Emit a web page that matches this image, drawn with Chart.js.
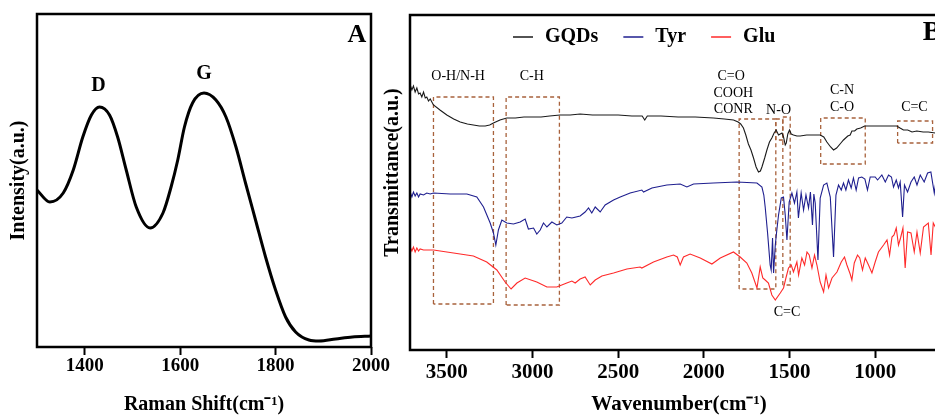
<!DOCTYPE html>
<html>
<head>
<meta charset="utf-8">
<script src="https://cdn.jsdelivr.net/npm/chart.js@4.4.1/dist/chart.umd.min.js"></script>
<style>
  html, body { margin: 0; padding: 0; background: #fff; overflow: hidden; width: 935px; height: 416px; }
  #wrapA { position: absolute; left: 0; top: 0; width: 400px; height: 416px; }
  #wrapB { position: absolute; left: 380px; top: 0; width: 620px; height: 416px; }
</style>
</head>
<body>
<div id="wrapA"><canvas id="ramanChart"></canvas></div>
<div id="wrapB"><canvas id="ftirChart"></canvas></div>
<script>
// ---- panel A: Raman ----
const ramanShift = [1300, 1327, 1355, 1376, 1396, 1414, 1431, 1452, 1469, 1487, 1508, 1537, 1564, 1581, 1595, 1609, 1626, 1650, 1675, 1696, 1717, 1737, 1758, 1779, 1800, 1821, 1842, 1870, 1891, 1926, 1961, 2000];
const ramanIntensity = [157, 145, 154, 177, 210, 232, 240, 232, 210, 177, 140, 119, 134, 160, 187, 220, 244, 254, 247, 230, 200, 164, 127, 90, 57, 30, 15, 7, 6, 8, 10, 11];
const ramanTicks = [1400, 1600, 1800, 2000];
const ramanPeaks = [
  { text: 'D', x: 1429, y: 261 },
  { text: 'G', x: 1650, y: 273 }
];

// ---- panel B: FTIR ----
const gqdsWavenumber = [3714, 3704, 3695, 3685, 3675, 3665, 3656, 3646, 3636, 3626, 3617, 3607, 3597, 3578, 3540, 3500, 3460, 3422, 3380, 3345, 3310, 3276, 3250, 3228, 3190, 3150, 3100, 3050, 3014, 2950, 2900, 2839, 2780, 2722, 2650, 2580, 2500, 2420, 2360, 2345, 2330, 2250, 2150, 2050, 1944, 1880, 1827, 1800, 1785, 1769, 1755, 1740, 1725, 1710, 1695, 1681, 1670, 1661, 1645, 1632, 1617, 1603, 1590, 1578, 1564, 1554, 1544, 1535, 1525, 1519, 1510, 1500, 1490, 1477, 1457, 1438, 1400, 1360, 1321, 1300, 1282, 1260, 1243, 1225, 1200, 1185, 1160, 1146, 1136, 1120, 1107, 1085, 1061, 1040, 1000, 971, 930, 900, 874, 855, 835, 810, 785, 757, 720, 690, 650, 600, 575];
const gqdsT = [265, 260, 264, 258, 262, 256, 257, 253, 258, 252, 253, 249, 251, 245, 240, 235, 231, 228, 226, 225, 224, 224, 225, 227, 230, 232, 232, 233, 233, 233, 234, 235, 235, 236, 235, 235, 235, 234, 234, 230, 234, 234, 233, 233, 232, 231, 230, 228, 226, 222, 215, 206, 200, 192, 183, 178, 179, 183, 192, 200, 208, 212, 217, 220, 215, 216, 217, 213, 205, 207, 216, 220, 216, 215, 214, 214, 215, 215, 215, 213, 208, 203, 200, 202, 207, 210, 214, 215, 219, 219, 221, 222, 224, 224, 224, 224, 224, 224, 224, 222, 220, 220, 218, 219, 218, 218, 217, 217, 217];

const tyrWavenumber = [3714, 3704, 3695, 3685, 3675, 3665, 3656, 3636, 3617, 3597, 3578, 3480, 3383, 3325, 3286, 3247, 3228, 3214, 3199, 3179, 3150, 3111, 3072, 3043, 3024, 2994, 2975, 2955, 2936, 2916, 2887, 2858, 2829, 2800, 2770, 2722, 2693, 2673, 2654, 2634, 2605, 2576, 2527, 2488, 2430, 2362, 2352, 2303, 2216, 2138, 2099, 2060, 1944, 1807, 1690, 1661, 1650, 1642, 1628, 1613, 1607, 1599, 1593, 1583, 1574, 1564, 1548, 1535, 1525, 1515, 1502, 1486, 1471, 1457, 1448, 1432, 1418, 1404, 1389, 1378, 1366, 1358, 1350, 1334, 1321, 1301, 1282, 1262, 1243, 1229, 1214, 1198, 1185, 1171, 1156, 1140, 1127, 1111, 1097, 1078, 1060, 1045, 1029, 1000, 986, 961, 941, 922, 905, 893, 877, 864, 854, 840, 829, 811, 791, 772, 756, 737, 714, 694, 675, 655, 640, 600, 575];
const tyrT = [158, 153, 158, 154, 157, 153, 156, 155, 157, 156, 157, 156, 156, 153, 143, 127, 117, 105, 120, 130, 127, 126, 128, 131, 121, 122, 116, 120, 127, 123, 128, 125, 127, 133, 132, 134, 138, 142, 137, 143, 138, 145, 150, 153, 157, 160, 158, 162, 165, 166, 163, 166, 167, 168, 167, 163, 155, 143, 117, 85, 80, 112, 77, 105, 120, 135, 152, 153, 135, 110, 148, 157, 147, 158, 132, 157, 140, 155, 142, 158, 125, 156, 147, 90, 152, 165, 167, 153, 93, 155, 165, 160, 167, 160, 170, 162, 172, 160, 172, 173, 171, 160, 173, 173, 170, 175, 168, 175, 173, 163, 170, 162, 168, 133, 165, 158, 168, 173, 165, 175, 168, 177, 178, 157, 175, 176, 176];

const gluWavenumber = [3714, 3704, 3695, 3685, 3675, 3665, 3656, 3636, 3578, 3461, 3345, 3267, 3208, 3160, 3125, 3091, 3043, 2975, 2916, 2858, 2800, 2770, 2751, 2722, 2693, 2663, 2634, 2595, 2527, 2449, 2372, 2362, 2294, 2216, 2177, 2155, 2138, 2119, 2080, 2021, 1953, 1904, 1827, 1788, 1749, 1720, 1690, 1671, 1656, 1642, 1623, 1603, 1583, 1554, 1535, 1521, 1506, 1490, 1477, 1457, 1447, 1428, 1412, 1398, 1385, 1369, 1354, 1340, 1321, 1301, 1287, 1272, 1252, 1223, 1198, 1179, 1165, 1146, 1136, 1122, 1103, 1090, 1074, 1058, 1039, 1019, 1000, 981, 951, 931, 916, 902, 890, 877, 864, 852, 838, 825, 811, 791, 772, 756, 737, 718, 690, 674, 661, 640, 600, 575];
const gluT = [103, 99, 103, 98, 102, 99, 101, 100, 100, 97, 94, 88, 80, 68, 61, 67, 72, 68, 63, 63, 67, 69, 67, 71, 73, 65, 70, 74, 77, 81, 83, 82, 88, 93, 95, 93, 85, 93, 96, 92, 86, 92, 98, 93, 87, 77, 62, 83, 72, 70, 67, 55, 50, 57, 62, 72, 82, 85, 78, 88, 75, 92, 85, 98, 95, 82, 95, 85, 68, 58, 75, 62, 72, 78, 88, 93, 85, 76, 70, 87, 95, 92, 80, 92, 85, 77, 88, 98, 105, 110, 95, 113, 115, 122, 105, 112, 122, 82, 118, 117, 98, 118, 97, 123, 127, 95, 127, 120, 128, 125];

const ftirTicks = [3500, 3000, 2500, 2000, 1500, 1000, 500];

// dashed boxes around the assigned bands (wavenumber range, transmittance range)
const bandRegions = [
  { from: 3578, to: 3228, low: 46, high: 253 },
  { from: 3154, to: 2843, low: 45, high: 253 },
  { from: 1794, to: 1580, low: 61, high: 231 },
  { from: 1580, to: 1539, low: 210, high: 231 },
  { from: 1539, to: 1496, low: 65, high: 233 },
  { from: 1318, to: 1058, low: 186, high: 232 },
  { from: 869, to: 665, low: 207, high: 229 }
];
const bandLabels = [
  { text: 'O-H/N-H', x: 3434, y: 274 },
  { text: 'C-H', x: 3004, y: 274 },
  { text: 'C=O', x: 1841, y: 274 },
  { text: 'COOH', x: 1828, y: 257 },
  { text: 'CONR', x: 1828, y: 241 },
  { text: 'N-O', x: 1564, y: 240 },
  { text: 'C-N', x: 1194, y: 260 },
  { text: 'C-O', x: 1194, y: 243 },
  { text: 'C=C', x: 771, y: 243 },
  { text: 'C=C', x: 1515, y: 38 }
];

const serif = "'Liberation Serif', 'Times New Roman', serif";
const pts = (xs, ys) => xs.map((x, i) => ({ x, y: ys[i] }));

// text at data positions, frame around the plot, panel letter
const panelDecor = {
  id: 'panelDecor',
  afterDatasetsDraw(chart, args, opts) {
    const { ctx, chartArea: a, scales: { x, y } } = chart;
    ctx.save();
    ctx.fillStyle = '#000';
    ctx.textAlign = 'center';
    ctx.textBaseline = 'middle';
    ctx.font = opts.font;
    (opts.items || []).forEach(it => {
      ctx.fillText(it.text, x.getPixelForValue(it.x), y.getPixelForValue(it.y));
    });
    ctx.lineWidth = 2.5;
    ctx.strokeStyle = '#000';
    ctx.strokeRect(a.left, a.top, a.right - a.left, a.bottom - a.top);
    ctx.font = opts.letterFont;
    ctx.fillText(opts.letter, a.right - opts.letterInset, a.top + opts.letterDrop);
    ctx.restore();
  }
};

// legend row inside the FTIR frame
const ftirLegend = {
  id: 'ftirLegend',
  afterDraw(chart, args, opts) {
    const ctx = chart.ctx;
    let x = opts.x;
    ctx.save();
    ctx.font = opts.font;
    ctx.textBaseline = 'middle';
    chart.data.datasets.filter(d => d.inLegend).forEach(d => {
      ctx.strokeStyle = d.borderColor;
      ctx.lineWidth = 1.5;
      ctx.beginPath();
      ctx.moveTo(x, opts.y);
      ctx.lineTo(x + opts.sample, opts.y);
      ctx.stroke();
      x += opts.sample + opts.gap;
      ctx.fillStyle = '#000';
      ctx.fillText(d.label, x, opts.y);
      x += ctx.measureText(d.label).width + opts.spacing;
    });
    ctx.restore();
  }
};

const xGrid = { display: true, drawOnChartArea: false, drawTicks: true, tickLength: 8, tickWidth: 2, tickColor: '#000' };
const plainNumber = v => String(v);

new Chart(document.getElementById('ramanChart'), {
  type: 'line',
  data: {
    datasets: [{
      label: 'Raman',
      data: pts(ramanShift, ramanIntensity),
      borderColor: '#000',
      borderWidth: 3,
      pointRadius: 0,
      cubicInterpolationMode: 'monotone'
    }]
  },
  options: {
    responsive: true,
    maintainAspectRatio: false,
    animation: false,
    layout: { padding: { top: 14, right: 29, left: 0, bottom: 0 } },
    plugins: {
      legend: { display: false },
      tooltip: { enabled: false },
      panelDecor: {
        items: ramanPeaks,
        font: 'bold 20px ' + serif,
        letter: 'A',
        letterFont: 'bold 26px ' + serif,
        letterInset: 14,
        letterDrop: 21
      }
    },
    scales: {
      x: {
        type: 'linear',
        min: 1300,
        max: 2000,
        afterBuildTicks: s => { s.ticks = ramanTicks.map(v => ({ value: v })); },
        afterFit: s => { s.height = 69; },
        grid: xGrid,
        border: { display: false },
        ticks: { color: '#000', padding: 0, callback: plainNumber, font: { family: serif, size: 19, weight: 'bold' } },
        title: {
          display: true,
          text: 'Raman Shift(cm\u207B\u00B9)',
          color: '#000',
          padding: { top: 0, bottom: 1 },
          font: { family: serif, size: 20, weight: 'bold', lineHeight: 1 }
        }
      },
      y: {
        min: 0,
        max: 333,
        afterFit: s => { s.width = 37; },
        grid: { display: false },
        border: { display: false },
        ticks: { display: false },
        title: {
          display: true,
          text: 'Intensity(a.u.)',
          color: '#000',
          padding: { top: 9, bottom: 0 },
          font: { family: serif, size: 20, weight: 'bold', lineHeight: 1 }
        }
      }
    }
  },
  plugins: [panelDecor]
});

const boxSets = bandRegions.map(b => ({
  label: 'band',
  data: [
    { x: b.from, y: b.low }, { x: b.from, y: b.high },
    { x: b.to, y: b.high }, { x: b.to, y: b.low }, { x: b.from, y: b.low }
  ],
  borderColor: '#a8623c',
  borderWidth: 1.3,
  borderDash: [4, 3],
  pointRadius: 0,
  tension: 0
}));

new Chart(document.getElementById('ftirChart'), {
  type: 'line',
  data: {
    datasets: [
      { label: 'GQDs', inLegend: true, data: pts(gqdsWavenumber, gqdsT), borderColor: '#1a1a1a', borderWidth: 1.1, pointRadius: 0 },
      { label: 'Tyr', inLegend: true, data: pts(tyrWavenumber, tyrT), borderColor: '#1f1f8f', borderWidth: 1.1, pointRadius: 0 },
      { label: 'Glu', inLegend: true, data: pts(gluWavenumber, gluT), borderColor: '#ff2a2a', borderWidth: 1.1, pointRadius: 0 },
      ...boxSets
    ]
  },
  options: {
    responsive: true,
    maintainAspectRatio: false,
    animation: false,
    layout: { padding: { top: 15, right: 52, left: 0, bottom: 0 } },
    plugins: {
      legend: { display: false },
      tooltip: { enabled: false },
      panelDecor: {
        items: bandLabels,
        font: '14px ' + serif,
        letter: 'B',
        letterFont: 'bold 28px ' + serif,
        letterInset: 16,
        letterDrop: 18
      },
      ftirLegend: { x: 133, y: 37, sample: 20, gap: 12, spacing: 25, font: 'bold 20px ' + serif }
    },
    scales: {
      x: {
        type: 'linear',
        reverse: true,
        min: 575,
        max: 3715,
        afterBuildTicks: s => { s.ticks = ftirTicks.map(v => ({ value: v })); },
        afterFit: s => { s.height = 66; },
        grid: xGrid,
        border: { display: false },
        ticks: { color: '#000', padding: 2, callback: plainNumber, font: { family: serif, size: 21, weight: 'bold' } },
        title: {
          display: true,
          text: 'Wavenumber(cm\u207B\u00B9)',
          color: '#000',
          padding: { top: 0, bottom: 1 },
          font: { family: serif, size: 21, weight: 'bold', lineHeight: 1 }
        }
      },
      y: {
        min: 0,
        max: 335,
        afterFit: s => { s.width = 30; },
        grid: { display: false },
        border: { display: false },
        ticks: { display: false },
        title: {
          display: true,
          text: '    Transmittance(a.u.)',
          color: '#000',
          padding: { top: 3, bottom: 0 },
          font: { family: serif, size: 20, weight: 'bold', lineHeight: 1 }
        }
      }
    }
  },
  plugins: [panelDecor, ftirLegend]
});
</script>
</body>
</html>
